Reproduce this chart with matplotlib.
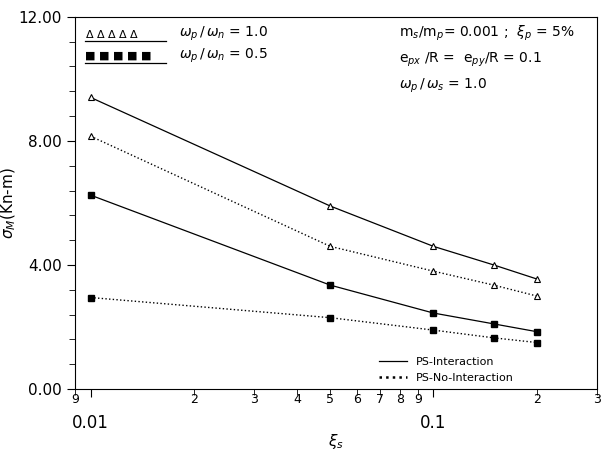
import matplotlib
matplotlib.use("Agg")
from matplotlib import pyplot as plt
from matplotlib.ticker import FixedLocator, MultipleLocator, NullFormatter
from matplotlib.lines import Line2D

xi_s = [0.01, 0.05, 0.1, 0.15, 0.2]
tri_interaction = [9.4, 5.9, 4.6, 4.0, 3.55]
tri_no_interaction = [8.15, 4.6, 3.8, 3.35, 3.0]
sq_interaction = [6.25, 3.35, 2.45, 2.1, 1.85]
sq_no_interaction = [2.95, 2.3, 1.9, 1.65, 1.5]
minor_x = [0.009, 0.02, 0.03, 0.04, 0.05, 0.06, 0.07, 0.08, 0.09, 0.2, 0.3]
minor_labels = ['9', '2', '3', '4', '5', '6', '7', '8', '9', '2', '3']

fig = plt.figure(figsize=(6.02, 4.55), dpi=100)
ax = fig.add_axes([0.1246, 0.145, 0.867, 0.818])
ax.set_xscale('log')

ax.plot(xi_s, tri_interaction, '-', color='black', lw=0.9, marker='^', ms=4, mfc='white', mew=0.8)
ax.plot(xi_s, tri_no_interaction, ':', color='black', lw=1.0, marker='^', ms=4, mfc='white', mew=0.8)
ax.plot(xi_s, sq_interaction, '-', color='black', lw=0.9, marker='s', ms=4)
ax.plot(xi_s, sq_no_interaction, ':', color='black', lw=1.0, marker='s', ms=4)

ax.set_xlim(0.009, 0.3)
ax.set_ylim(0, 12)
ax.set_yticks([0, 4, 8, 12])
ax.set_yticklabels(['0.00', '4.00', '8.00', '12.00'], fontsize=11)
ax.yaxis.set_minor_locator(MultipleLocator(0.8))
ax.set_xticks([0.01, 0.1])
ax.set_xticklabels(['0.01', '0.1'], fontsize=12)
ax.tick_params(axis='x', which='major', pad=12, length=6)
ax.tick_params(axis='y', which='major', length=6)
ax.tick_params(which='minor', length=4)
ax.xaxis.set_minor_locator(FixedLocator(minor_x))
ax.xaxis.set_minor_formatter(NullFormatter())
for v, lab in zip(minor_x, minor_labels):
    ax.text(v, -0.012, lab, ha='center', va='top', fontsize=9,
            transform=ax.get_xaxis_transform())
ax.set_xlabel(r'$\xi_s$', fontsize=11, labelpad=0)
ax.set_ylabel(r'$\sigma_M$(Kn-m)', fontsize=11, labelpad=0)

# top-left marker legend
ax.text(0.02, 0.955, r'$\Delta\ \Delta\ \Delta\ \Delta\ \Delta$', transform=ax.transAxes, fontsize=8, va='center')
ax.plot([0.02, 0.175], [0.935, 0.935], color='black', lw=0.9, transform=ax.transAxes)
ax.text(0.02, 0.895, '■ ■ ■ ■ ■', transform=ax.transAxes, fontsize=8, va='center')
ax.plot([0.02, 0.175], [0.875, 0.875], color='black', lw=0.9, transform=ax.transAxes)
ax.text(0.2, 0.955, r'$\omega_p\,/\,\omega_n$ = 1.0', transform=ax.transAxes, fontsize=10, va='center')
ax.text(0.2, 0.895, r'$\omega_p\,/\,\omega_n$ = 0.5', transform=ax.transAxes, fontsize=10, va='center')

ax.text(0.62, 0.955, r'm$_s$/m$_p$= 0.001 ;  $\xi_p$ = 5%', transform=ax.transAxes, fontsize=10, va='center')
ax.text(0.62, 0.885, r'e$_{px}$ /R =  e$_{py}$/R = 0.1', transform=ax.transAxes, fontsize=10, va='center')
ax.text(0.62, 0.815, r'$\omega_p\,/\,\omega_s$ = 1.0', transform=ax.transAxes, fontsize=10, va='center')

handles = [Line2D([], [], color='black', lw=0.9, ls='-'),
           Line2D([], [], color='black', lw=1.8, ls=':')]
ax.legend(handles, ['PS-Interaction', 'PS-No-Interaction'], loc='lower right',
          bbox_to_anchor=(0.86, -0.01), frameon=False, fontsize=8, handlelength=2.5)

fig.savefig('out.png', dpi=100)
